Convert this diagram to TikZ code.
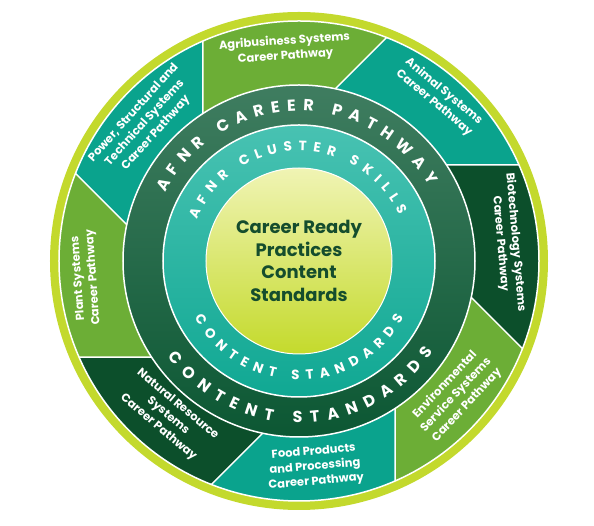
\documentclass[tikz,border=0pt]{standalone}
\usepackage{fontspec}
\setmainfont{Poppins}
\usetikzlibrary{decorations.text}

\definecolor{limering}{HTML}{C3D92D}
\definecolor{lightseg}{HTML}{6CAE36}
\definecolor{tealseg}{HTML}{0AA38D}
\definecolor{darkseg}{HTML}{0C4F2B}
\definecolor{pathtop}{HTML}{3F7D60}
\definecolor{pathbot}{HTML}{0C5733}
\definecolor{clustertop}{HTML}{48C2B2}
\definecolor{clusterbot}{HTML}{10A893}
\definecolor{coretop}{HTML}{F0F4B4}
\definecolor{corebot}{HTML}{C4DA2C}
\definecolor{coreink}{HTML}{154D2D}

\newcommand{\bigring}{\bfseries\fontsize{16}{16}\selectfont}
\newcommand{\smallring}{\bfseries\fontsize{13.5}{14}\selectfont}

\begin{document}
\begin{tikzpicture}[
    x=1pt, y=1pt,
    segtext/.style={text=white, font=\fontsize{11.5}{15}\selectfont\bfseries, align=center},
    coretext/.style={text=coreink, font=\fontsize{18}{22.5}\selectfont\bfseries, align=center},
    sepline/.style={draw=white, line width=1.5pt},
    ringtext/.style={decorate, decoration={text along path, text color=white, text align=fit to path}}
]
\useasboundingbox (-299,-265) rectangle (295,261);

% Outer border
\fill[limering] (0,0) circle[radius=249pt];

% Pathway segments (boundaries tangent to the core circle)
\foreach \a/\c in {180/lightseg, 135/tealseg, 90/darkseg, 45/lightseg,
                   0/tealseg, -45/darkseg, -90/lightseg, -135/tealseg}
  \fill[\c] ({\a-56.9}:176pt) -- ({\a-66.4}:240pt)
      arc[start angle={\a-66.4}, end angle={\a-111.4}, radius=240pt]
      -- ({\a-101.9}:176pt)
      arc[start angle={\a-101.9}, end angle={\a-56.9}, radius=176pt] -- cycle;
\foreach \a in {180,135,...,-135}
  \draw[sepline] ({\a-56.9}:176pt) -- ({\a-66.4}:240pt);
\draw[sepline] (0,0) circle[radius=240pt];

% Career pathway ring
\shade[top color=pathtop, bottom color=pathbot] (0,0) circle[radius=176pt];
\draw[sepline] (0,0) circle[radius=176pt];

% Cluster skills ring
\shade[top color=clustertop, bottom color=clusterbot] (0,0) circle[radius=136pt];
\draw[sepline] (0,0) circle[radius=136pt];

% Core
\shade[top color=coretop, bottom color=corebot] (0,0) circle[radius=93pt];
\draw[draw=white, line width=1pt] (0,0) circle[radius=93pt];
\node[coretext] (core) at (0,0) {Career Ready\\Practices\\Content\\Standards};

% Ring labels
\path[ringtext, decoration={text={|\bigring|AFNR CAREER PATHWAY}}]
  (153:150pt) arc[start angle=153, end angle=30, radius=150pt];
\path[ringtext, decoration={text={|\bigring|CONTENT STANDARDS}}]
  (-144:162pt) arc[start angle=-144, end angle=-34, radius=162pt];
\path[ringtext, decoration={text={|\smallring|AFNR CLUSTER SKILLS}}]
  (158:110pt) arc[start angle=158, end angle=24.5, radius=110pt];
\path[ringtext, decoration={text={|\smallring|CONTENT STANDARDS}}]
  (-151.5:119pt) arc[start angle=-151.5, end angle=-28.5, radius=119pt];

% Segment labels
\node[segtext, rotate=4] (agri) at (-14,212) {Agribusiness Systems\\Career Pathway};
\node[segtext, rotate=-40] (animal) at (140,164) {Animal Systems\\Career Pathway};
\node[segtext, rotate=-85] (biotech) at (209,18) {Biotechnology Systems\\Career Pathway};
\node[segtext, rotate=47] (env) at (157,-134) {Environmental\\Service Systems\\Career Pathway};
\node[segtext, rotate=5] (food) at (16,-206) {Food Products\\and Processing\\Career Pathway};
\node[segtext, rotate=-40] (natres) at (-131,-155) {Natural Resource\\Systems\\Career Pathway};
\node[segtext, rotate=94] (plant) at (-213,-17) {Plant Systems\\Career Pathway};
\node[segtext, rotate=48] (power) at (-154,138) {Power, Structural and\\Technical Systems\\Career Pathway};

\end{tikzpicture}
\end{document}
